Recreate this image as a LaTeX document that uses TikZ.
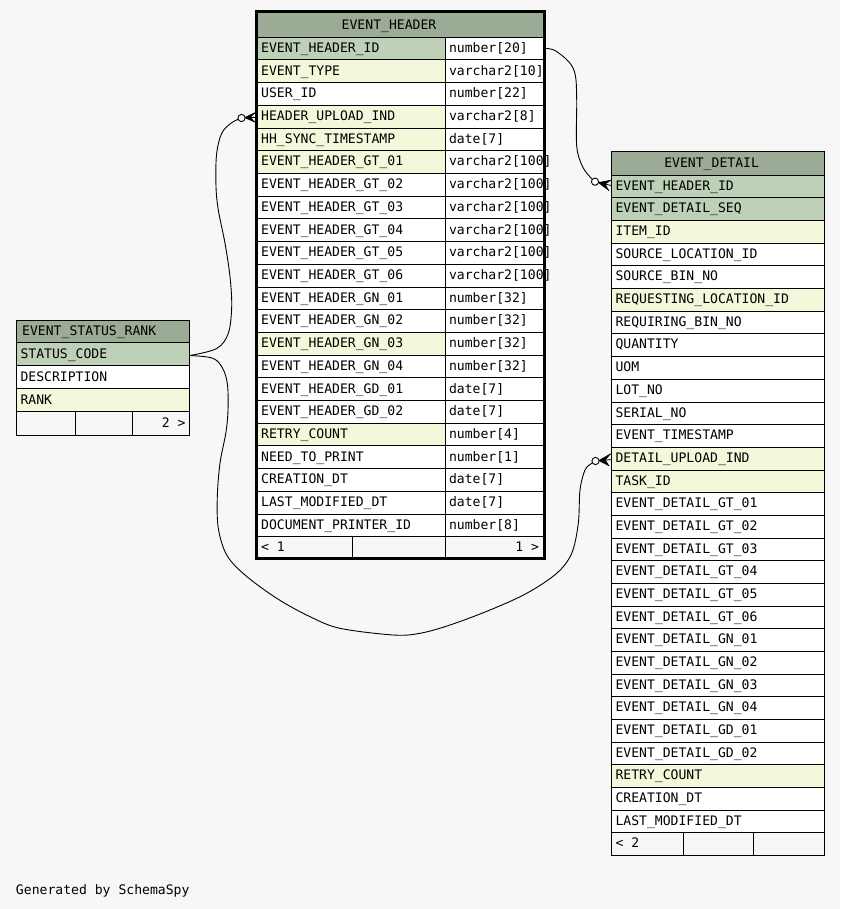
\documentclass[tikz,border=0pt]{standalone}
\usepackage{fontspec}
\newfontfamily\monofam{DejaVu Sans Mono}
\usetikzlibrary{calc}
\definecolor{schBg}{HTML}{F7F7F7}
\definecolor{schHead}{HTML}{9BAB96}
\definecolor{schPK}{HTML}{BED1B8}
\definecolor{schIdx}{HTML}{F4F7DA}
\definecolor{schW}{HTML}{FFFFFF}
\newcommand\crowfoot[4]{%
  \fill (#1) -- (#2) -- ($(#1)!0.55!(#3)$) -- (#4) -- cycle;
  \draw[line width=0.8pt] (#1) -- (#2) (#1) -- (#3) (#1) -- (#4);}
\begin{document}
\begin{tikzpicture}[x=1pt,y=-1pt,
  cell/.style={draw=black,line width=1pt},
  txt/.style={anchor=base west,inner sep=0pt,outer sep=0pt,font=\monofam\fontsize{13.1}{15}\selectfont},
  txtr/.style={txt,anchor=base east},
  conn/.style={line width=0.9pt,line join=round},
  odot/.style={draw=black,fill=white,line width=0.9pt}]
\useasboundingbox (0,0) rectangle (840,909);
\fill[schBg] (0,0) rectangle (840,909);

% ---------------- EVENT_HEADER ----------------
\def\ehL{256.5}\def\ehM{445.7}\def\ehR{544.5}\def\ehT{37.3}\def\ehH{22.7}
\draw[cell,fill=schHead] (\ehL,11) rectangle (\ehR,\ehT);
\node[txt] (eh-title) at (341.7,30) {EVENT\_HEADER};
\foreach \i/\nm/\ty/\cl in {
 0/EVENT\_HEADER\_ID/number[20]/schPK,
 1/EVENT\_TYPE/varchar2[10]/schIdx,
 2/USER\_ID/number[22]/schW,
 3/HEADER\_UPLOAD\_IND/varchar2[8]/schIdx,
 4/HH\_SYNC\_TIMESTAMP/date[7]/schIdx,
 5/EVENT\_HEADER\_GT\_01/varchar2[100]/schIdx,
 6/EVENT\_HEADER\_GT\_02/varchar2[100]/schW,
 7/EVENT\_HEADER\_GT\_03/varchar2[100]/schW,
 8/EVENT\_HEADER\_GT\_04/varchar2[100]/schW,
 9/EVENT\_HEADER\_GT\_05/varchar2[100]/schW,
 10/EVENT\_HEADER\_GT\_06/varchar2[100]/schW,
 11/EVENT\_HEADER\_GN\_01/number[32]/schW,
 12/EVENT\_HEADER\_GN\_02/number[32]/schW,
 13/EVENT\_HEADER\_GN\_03/number[32]/schIdx,
 14/EVENT\_HEADER\_GN\_04/number[32]/schW,
 15/EVENT\_HEADER\_GD\_01/date[7]/schW,
 16/EVENT\_HEADER\_GD\_02/date[7]/schW,
 17/RETRY\_COUNT/number[4]/schIdx,
 18/NEED\_TO\_PRINT/number[1]/schW,
 19/CREATION\_DT/date[7]/schW,
 20/LAST\_MODIFIED\_DT/date[7]/schW,
 21/DOCUMENT\_PRINTER\_ID/number[8]/schW}{
  \pgfmathsetmacro\yt{\ehT+\i*\ehH}
  \pgfmathsetmacro\yb{\yt+\ehH}
  \pgfmathsetmacro\ybase{\yt+15.2}
  \draw[cell,fill=\cl] (\ehL,\yt) rectangle (\ehM,\yb);
  \draw[cell,fill=schW] (\ehM,\yt) rectangle (\ehR,\yb);
  \node[txt] (eh-n\i) at (261.2,\ybase) {\nm};
  \node[txt] (eh-t\i) at (449,\ybase) {\ty};
}
\pgfmathsetmacro\ehF{\ehT+22*\ehH}
\pgfmathsetmacro\ehB{\ehF+\ehH}
\draw[cell,fill=schBg] (\ehL,\ehF) rectangle (352.3,\ehB);
\draw[cell,fill=schBg] (352.3,\ehF) rectangle (\ehM,\ehB);
\draw[cell,fill=schBg] (\ehM,\ehF) rectangle (\ehR,\ehB);
\node[txt] (eh-fl) at (261.2,\ehF+15.2) {< 1};
\node[txtr] (eh-fr) at (539,\ehF+15.2) {1 >};
\draw[line width=3pt] (\ehL,11.2) rectangle (\ehR,558);

% ---------------- EVENT_DETAIL ----------------
\def\edL{611.7}\def\edR{824.3}\def\edT{175.3}\def\edH{22.67}
\draw[cell,fill=schHead] (\edL,151.7) rectangle (\edR,\edT);
\node[txt] (ed-title) at (664.3,167.2) {EVENT\_DETAIL};
\foreach \i/\nm/\cl in {
 0/EVENT\_HEADER\_ID/schPK,
 1/EVENT\_DETAIL\_SEQ/schPK,
 2/ITEM\_ID/schIdx,
 3/SOURCE\_LOCATION\_ID/schW,
 4/SOURCE\_BIN\_NO/schW,
 5/REQUESTING\_LOCATION\_ID/schIdx,
 6/REQUIRING\_BIN\_NO/schW,
 7/QUANTITY/schW,
 8/UOM/schW,
 9/LOT\_NO/schW,
 10/SERIAL\_NO/schW,
 11/EVENT\_TIMESTAMP/schW,
 12/DETAIL\_UPLOAD\_IND/schIdx,
 13/TASK\_ID/schIdx,
 14/EVENT\_DETAIL\_GT\_01/schW,
 15/EVENT\_DETAIL\_GT\_02/schW,
 16/EVENT\_DETAIL\_GT\_03/schW,
 17/EVENT\_DETAIL\_GT\_04/schW,
 18/EVENT\_DETAIL\_GT\_05/schW,
 19/EVENT\_DETAIL\_GT\_06/schW,
 20/EVENT\_DETAIL\_GN\_01/schW,
 21/EVENT\_DETAIL\_GN\_02/schW,
 22/EVENT\_DETAIL\_GN\_03/schW,
 23/EVENT\_DETAIL\_GN\_04/schW,
 24/EVENT\_DETAIL\_GD\_01/schW,
 25/EVENT\_DETAIL\_GD\_02/schW,
 26/RETRY\_COUNT/schIdx,
 27/CREATION\_DT/schW,
 28/LAST\_MODIFIED\_DT/schW}{
  \pgfmathsetmacro\yt{\edT+\i*\edH}
  \pgfmathsetmacro\yb{\yt+\edH}
  \pgfmathsetmacro\ybase{\yt+15}
  \draw[cell,fill=\cl] (\edL,\yt) rectangle (\edR,\yb);
  \node[txt] (ed-n\i) at (615.5,\ybase) {\nm};
}
\pgfmathsetmacro\edF{\edT+29*\edH}
\pgfmathsetmacro\edB{\edF+\edH}
\draw[cell,fill=schBg] (\edL,\edF) rectangle (683.3,\edB);
\draw[cell,fill=schBg] (683.3,\edF) rectangle (753.7,\edB);
\draw[cell,fill=schBg] (753.7,\edF) rectangle (\edR,\edB);
\node[txt] (ed-fl) at (615.5,\edF+15) {< 2};

% ---------------- EVENT_STATUS_RANK ----------------
\def\srL{16}\def\srR{189.3}\def\srT{342.7}\def\srH{23.08}
\draw[cell,fill=schHead] (\srL,320) rectangle (\srR,\srT);
\node[txt] (sr-title) at (22.2,335) {EVENT\_STATUS\_RANK};
\foreach \i/\nm/\cl in {0/STATUS\_CODE/schPK,1/DESCRIPTION/schW,2/RANK/schIdx}{
  \pgfmathsetmacro\yt{\srT+\i*\srH}
  \pgfmathsetmacro\yb{\yt+\srH}
  \pgfmathsetmacro\ybase{\yt+15.3}
  \draw[cell,fill=\cl] (\srL,\yt) rectangle (\srR,\yb);
  \node[txt] (sr-n\i) at (20.5,\ybase) {\nm};
}
\pgfmathsetmacro\srF{\srT+3*\srH}
\pgfmathsetmacro\srB{\srF+\srH}
\draw[cell,fill=schBg] (\srL,\srF) rectangle (75.7,\srB);
\draw[cell,fill=schBg] (75.7,\srF) rectangle (132.7,\srB);
\draw[cell,fill=schBg] (132.7,\srF) rectangle (\srR,\srB);
\node[txtr] (sr-fr) at (185.5,\srF+15.3) {2 >};

% ---------------- footer text ----------------
\node[txt] (gen) at (16,894.5) {Generated by SchemaSpy};

% ---------------- connectors ----------------
\coordinate (c1s) at (545.7,48.5);
\coordinate (c1o) at (595,181.7);
\coordinate (c2s) at (190,355.5);
\coordinate (c2o) at (241.5,118);
\coordinate (c3o) at (595.5,461);

\draw[conn] plot[smooth,tension=0.55] coordinates {(c1s) (555,50.5) (569,62) (575.3,75) (576.7,100) (576.7,146) (582.5,166.5) (590.5,177.5) (c1o)};
\draw[conn] plot[smooth,tension=0.55] coordinates {(c2s) (216.7,348.5) (228.3,333.3) (231.7,306.7) (230,276.7) (225,243.3) (218.3,210) (216,186.7) (216.5,155) (221.7,133.3) (231.7,122.7) (c2o)};
\draw[conn] plot[smooth,tension=0.55] coordinates {(c2s) (213,358.3) (223,369) (227.5,385) (228,410) (226,432) (220,463.3) (217.3,496.7) (218.3,528.3) (226.7,555) (245,575) (276.7,598.3) (310,616.7) (340,628.3) (393.3,635) (420,633.3) (450,625) (490,610) (526.7,593.3) (556.7,573.3) (571.7,553.3) (578.3,523.3) (580,490) (585,470) (591.7,463.3) (c3o)};

\coordinate (k1t) at (598.5,182.6);
\coordinate (k1a) at (611.5,180.2);
\coordinate (k1m) at (611.2,185.5);
\coordinate (k1b) at (609,190.5);
\crowfoot{k1t}{k1a}{k1m}{k1b}
\draw[odot] (c1o) circle (3.6);

\coordinate (k2t) at (245,117.6);
\coordinate (k2a) at (255.5,112.5);
\coordinate (k2m) at (255.5,117.4);
\coordinate (k2b) at (255.5,122.3);
\crowfoot{k2t}{k2a}{k2m}{k2b}
\draw[odot] (c2o) circle (3.6);

\coordinate (k3t) at (599,460.6);
\coordinate (k3a) at (610.8,453.8);
\coordinate (k3m) at (611.2,459.6);
\coordinate (k3b) at (609.2,465.8);
\crowfoot{k3t}{k3a}{k3m}{k3b}
\draw[odot] (c3o) circle (3.6);
\end{tikzpicture}
\end{document}
